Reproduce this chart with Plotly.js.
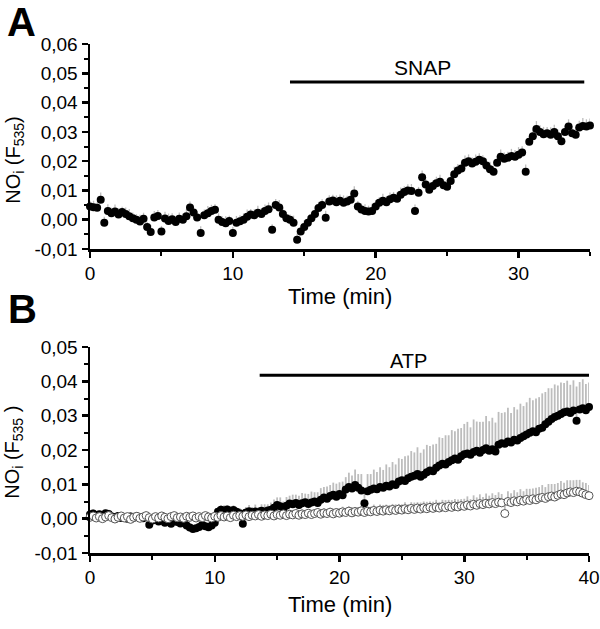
<!DOCTYPE html>
<html>
<head>
<meta charset="utf-8">
<script src="https://cdn.plot.ly/plotly-3.0.1.min.js"></script>
<style>html,body{margin:0;padding:0;background:#fff;}#chart{width:600px;height:629px;}</style>
</head>
<body>
<div id="chart"></div>
<script>
// ---------- DATA ----------
// Panel A: NOi (F535) with SNAP, sampled every 0.25 min from 0 to 35 min
const timeStartA = 0;
const timeStepA = 0.25;
const noSnap = [
  0.0045,0.0043,0.0041,0.0068,-0.0010,0.0030,0.0022,0.0028,0.0018,0.0026,
  0.0020,0.0012,0.0005,0.0000,-0.0006,0.0003,-0.0025,-0.0042,0.0008,0.0013,
  -0.0040,0.0004,-0.0004,0.0002,-0.0008,0.0003,0.0000,0.0012,0.0042,0.0025,
  0.0008,-0.0045,0.0015,0.0022,0.0030,0.0034,0.0000,-0.0008,-0.0012,-0.0004,
  -0.0045,-0.0010,-0.0005,0.0000,0.0010,0.0018,0.0015,0.0024,0.0020,0.0030,
  0.0036,-0.0034,0.0050,0.0042,0.0020,0.0005,0.0000,-0.0010,-0.0068,-0.0040,
  -0.0025,-0.0010,0.0005,0.0020,0.0040,0.0050,0.0007,0.0062,0.0066,0.0060,
  0.0065,0.0058,0.0062,0.0068,0.0090,0.0045,0.0035,0.0030,0.0028,0.0030,
  0.0045,0.0058,0.0065,0.0060,0.0070,0.0075,0.0072,0.0085,0.0095,0.0100,
  0.0098,0.0030,0.0092,0.0145,0.0120,0.0102,0.0115,0.0125,0.0130,0.0118,
  0.0113,0.0132,0.0155,0.0168,0.0175,0.0195,0.0200,0.0192,0.0198,0.0205,
  0.0200,0.0185,0.0172,0.0164,0.0195,0.0215,0.0208,0.0212,0.0218,0.0215,
  0.0222,0.0230,0.0164,0.0266,0.0285,0.0310,0.0300,0.0292,0.0295,0.0290,
  0.0300,0.0285,0.0268,0.0300,0.0318,0.0295,0.0290,0.0315,0.0320,0.0318,
  0.0322
];
const noSnapErr = [
  0.0020,0.0022,0.0018,0.0025,0.0020,0.0023,0.0019,0.0024,0.0021,0.0018,
  0.0022,0.0025,0.0020,0.0019,0.0023,0.0021,0.0018,0.0024,0.0022,0.0020,
  0.0019,0.0023,0.0025,0.0020,0.0018,0.0022,0.0021,0.0024,0.0020,0.0019,
  0.0022,0.0023,0.0020,0.0025,0.0021,0.0019,0.0022,0.0020,0.0024,0.0018,
  0.0021,0.0023,0.0020,0.0022,0.0025,0.0019,0.0021,0.0024,0.0020,0.0022,
  0.0023,0.0019,0.0021,0.0025,0.0020,0.0022,0.0018,0.0024,0.0021,0.0020,
  0.0023,0.0022,0.0019,0.0025,0.0021,0.0020,0.0024,0.0022,0.0019,0.0023,
  0.0021,0.0025,0.0020,0.0022,0.0024,0.0019,0.0021,0.0023,0.0020,0.0025,
  0.0022,0.0019,0.0024,0.0021,0.0023,0.0020,0.0022,0.0025,0.0019,0.0021,
  0.0024,0.0022,0.0020,0.0023,0.0021,0.0025,0.0019,0.0022,0.0024,0.0020,
  0.0023,0.0021,0.0026,0.0022,0.0020,0.0024,0.0023,0.0021,0.0025,0.0022,
  0.0020,0.0024,0.0026,0.0021,0.0023,0.0025,0.0022,0.0020,0.0024,0.0023,
  0.0026,0.0021,0.0025,0.0022,0.0024,0.0027,0.0023,0.0025,0.0022,0.0026,
  0.0024,0.0023,0.0027,0.0022,0.0025,0.0024,0.0026,0.0023,0.0027,0.0025,
  0.0024
];

// Panel B: NOi (F535) with ATP (filled) and control (open), every 0.25 min from 0 to 40 min
const timeStartB = 0;
const timeStepB = 0.25;
const noAtp = [
  0.0012,0.0015,0.0010,0.0013,0.0008,0.0016,0.0014,0.0006,0.0004,0.0008,
  0.0002,0.0005,0.0000,0.0006,0.0003,0.0007,0.0004,0.0001,0.0005,-0.0018,
  -0.0005,0.0000,-0.0008,-0.0003,-0.0012,-0.0006,-0.0015,-0.0004,-0.0010,-0.0014,
  -0.0008,-0.0020,-0.0026,-0.0030,-0.0028,-0.0024,-0.0018,-0.0022,-0.0025,-0.0020,
  -0.0012,0.0020,0.0026,0.0024,0.0027,0.0021,0.0025,0.0020,0.0016,-0.0015,
  0.0018,0.0022,0.0019,0.0021,0.0017,0.0023,0.0020,0.0024,0.0026,0.0032,
  0.0040,0.0036,0.0030,0.0038,0.0044,0.0042,0.0046,0.0040,0.0045,0.0048,
  0.0043,0.0047,0.0050,0.0046,0.0055,0.0062,0.0058,0.0066,0.0070,0.0064,
  0.0072,0.0068,0.0085,0.0092,0.0088,0.0098,0.0090,0.0082,0.0045,0.0080,
  0.0084,0.0088,0.0086,0.0092,0.0090,0.0096,0.0094,0.0100,0.0098,0.0108,
  0.0112,0.0110,0.0118,0.0122,0.0125,0.0130,0.0122,0.0128,0.0135,0.0140,
  0.0138,0.0148,0.0155,0.0160,0.0158,0.0165,0.0170,0.0175,0.0172,0.0182,
  0.0188,0.0190,0.0186,0.0194,0.0198,0.0192,0.0200,0.0205,0.0198,0.0202,
  0.0196,0.0215,0.0220,0.0218,0.0225,0.0222,0.0230,0.0228,0.0235,0.0240,
  0.0245,0.0250,0.0255,0.0252,0.0262,0.0265,0.0275,0.0282,0.0290,0.0296,
  0.0300,0.0305,0.0310,0.0312,0.0308,0.0315,0.0285,0.0318,0.0322,0.0316,
  0.0325
];
const noAtpErr = [
  0.0010,0.0012,0.0009,0.0011,0.0013,0.0010,0.0012,0.0009,0.0011,0.0010,
  0.0012,0.0009,0.0011,0.0013,0.0010,0.0012,0.0011,0.0009,0.0012,0.0010,
  0.0011,0.0013,0.0010,0.0012,0.0009,0.0011,0.0013,0.0010,0.0012,0.0011,
  0.0010,0.0012,0.0011,0.0013,0.0010,0.0012,0.0009,0.0011,0.0013,0.0012,
  0.0012,0.0014,0.0013,0.0015,0.0012,0.0016,0.0014,0.0013,0.0015,0.0014,
  0.0016,0.0018,0.0015,0.0020,0.0017,0.0019,0.0022,0.0018,0.0021,0.0024,
  0.0022,0.0026,0.0020,0.0025,0.0023,0.0028,0.0024,0.0027,0.0030,0.0025,
  0.0029,0.0032,0.0027,0.0031,0.0034,0.0030,0.0036,0.0032,0.0035,0.0038,
  0.0034,0.0040,0.0036,0.0042,0.0038,0.0045,0.0040,0.0048,0.0044,0.0050,
  0.0046,0.0055,0.0050,0.0058,0.0052,0.0062,0.0056,0.0065,0.0060,0.0068,
  0.0062,0.0072,0.0066,0.0075,0.0068,0.0078,0.0070,0.0074,0.0080,0.0072,
  0.0078,0.0070,0.0082,0.0075,0.0085,0.0078,0.0088,0.0080,0.0090,0.0082,
  0.0088,0.0092,0.0080,0.0095,0.0085,0.0090,0.0082,0.0094,0.0086,0.0092,
  0.0084,0.0096,0.0088,0.0092,0.0098,0.0086,0.0095,0.0090,0.0100,0.0088,
  0.0094,0.0102,0.0090,0.0098,0.0092,0.0100,0.0094,0.0098,0.0090,0.0095,
  0.0088,0.0092,0.0085,0.0090,0.0082,0.0088,0.0100,0.0080,0.0084,0.0076,
  0.0072
];
const noControl = [
  0.0004,0.0008,0.0002,0.0006,0.0000,0.0005,0.0009,0.0003,-0.0001,0.0004,
  0.0008,0.0002,0.0006,-0.0002,0.0004,0.0007,0.0001,0.0005,0.0009,0.0003,
  -0.0001,0.0006,0.0002,0.0008,0.0004,0.0000,0.0006,0.0009,0.0003,0.0005,
  0.0001,0.0007,0.0004,0.0008,0.0002,0.0006,0.0003,0.0009,0.0005,0.0002,
  0.0007,0.0004,0.0009,0.0005,0.0008,0.0003,0.0010,0.0006,0.0009,0.0007,
  0.0011,0.0006,0.0010,0.0008,0.0012,0.0007,0.0011,0.0009,0.0013,0.0008,
  0.0012,0.0010,0.0014,0.0009,0.0013,0.0011,0.0015,0.0010,0.0014,0.0012,
  0.0016,0.0012,0.0015,0.0018,0.0013,0.0017,0.0015,0.0019,0.0014,0.0018,
  0.0016,0.0020,0.0018,0.0022,0.0017,0.0021,0.0019,0.0023,0.0018,0.0022,
  0.0020,0.0024,0.0021,0.0025,0.0022,0.0026,0.0023,0.0027,0.0024,0.0028,
  0.0025,0.0029,0.0026,0.0030,0.0027,0.0031,0.0028,0.0032,0.0029,0.0033,
  0.0030,0.0034,0.0031,0.0035,0.0032,0.0036,0.0033,0.0037,0.0034,0.0038,
  0.0036,0.0040,0.0037,0.0042,0.0039,0.0044,0.0041,0.0045,0.0043,0.0047,
  0.0044,0.0048,0.0046,0.0015,0.0050,0.0047,0.0052,0.0049,0.0054,0.0051,
  0.0056,0.0053,0.0058,0.0055,0.0060,0.0062,0.0059,0.0064,0.0066,0.0063,
  0.0068,0.0072,0.0070,0.0075,0.0078,0.0076,0.0080,0.0078,0.0074,0.0070,
  0.0067
];
const noControlErr = [
  0.0006,0.0008,0.0005,0.0007,0.0009,0.0006,0.0008,0.0005,0.0007,0.0006,
  0.0008,0.0005,0.0007,0.0009,0.0006,0.0008,0.0007,0.0005,0.0008,0.0006,
  0.0007,0.0009,0.0006,0.0008,0.0005,0.0007,0.0009,0.0006,0.0008,0.0007,
  0.0006,0.0008,0.0007,0.0009,0.0006,0.0008,0.0005,0.0007,0.0009,0.0008,
  0.0008,0.0010,0.0007,0.0009,0.0008,0.0010,0.0007,0.0009,0.0010,0.0008,
  0.0009,0.0011,0.0008,0.0010,0.0009,0.0011,0.0008,0.0010,0.0012,0.0009,
  0.0010,0.0012,0.0009,0.0011,0.0013,0.0010,0.0012,0.0011,0.0013,0.0010,
  0.0012,0.0014,0.0011,0.0013,0.0012,0.0014,0.0011,0.0013,0.0015,0.0012,
  0.0013,0.0015,0.0012,0.0014,0.0016,0.0013,0.0015,0.0014,0.0016,0.0013,
  0.0015,0.0017,0.0014,0.0016,0.0018,0.0015,0.0017,0.0016,0.0018,0.0015,
  0.0017,0.0019,0.0016,0.0018,0.0020,0.0017,0.0019,0.0018,0.0020,0.0017,
  0.0019,0.0021,0.0018,0.0020,0.0022,0.0019,0.0021,0.0020,0.0022,0.0019,
  0.0022,0.0025,0.0020,0.0026,0.0023,0.0027,0.0022,0.0028,0.0024,0.0027,
  0.0025,0.0029,0.0026,0.0028,0.0030,0.0027,0.0031,0.0028,0.0032,0.0029,
  0.0031,0.0034,0.0030,0.0035,0.0032,0.0036,0.0033,0.0037,0.0035,0.0038,
  0.0036,0.0038,0.0035,0.0037,0.0034,0.0036,0.0033,0.0035,0.0032,0.0034,
  0.0031
];

// Treatment periods (min), bar levels and label positions
const snapPeriod = [14.0, 34.6];
const snapLevel = 0.047;
const snapLabelX = 23.3;
const atpPeriod = [13.6, 40.0];
const atpLevel = 0.0418;
const atpLabelX = 25.5;

// Tick labels
const xTicksA = [0, 10, 20, 30];
const xTickTextA = ['0', '10', '20', '30'];
const yTicksA = [-0.01, 0.00, 0.01, 0.02, 0.03, 0.04, 0.05, 0.06];
const yTickTextA = ['-0,01', '0,00', '0,01', '0,02', '0,03', '0,04', '0,05', '0,06'];
const xTicksB = [0, 10, 20, 30, 40];
const xTickTextB = ['0', '10', '20', '30', '40'];
const yTicksB = [-0.01, 0.00, 0.01, 0.02, 0.03, 0.04, 0.05];
const yTickTextB = ['-0,01', '0,00', '0,01', '0,02', '0,03', '0,04', '0,05'];

// ---------- STYLE / BUILD ----------
const FONT = 'Liberation Sans, Arial, Helvetica, sans-serif';
const errColor = '#bdbdbd';
const upOnly = (arr) => arr.map(() => 0);

const traces = [
  {
    type: 'scatter', mode: 'markers', xaxis: 'x', yaxis: 'y',
    x0: timeStartA, dx: timeStepA, y: noSnap, cliponaxis: false,
    marker: {symbol: 'circle', size: 8, color: '#000'},
    error_y: {type: 'data', symmetric: false, array: noSnapErr, arrayminus: upOnly(noSnapErr),
              color: errColor, thickness: 1.3, width: 0}
  },
  {
    type: 'scatter', mode: 'markers', xaxis: 'x2', yaxis: 'y2',
    x0: timeStartB, dx: timeStepB, y: noAtp, cliponaxis: false,
    marker: {symbol: 'circle', size: 8, color: '#000'},
    error_y: {type: 'data', symmetric: false, array: noAtpErr, arrayminus: upOnly(noAtpErr),
              color: errColor, thickness: 1.8, width: 0}
  },
  {
    type: 'scatter', mode: 'markers', xaxis: 'x2', yaxis: 'y2',
    x0: timeStartB, dx: timeStepB, y: noControl, cliponaxis: false,
    marker: {symbol: 'circle', size: 8, color: '#fff', line: {color: '#555', width: 1}},
    error_y: {type: 'data', symmetric: false, array: noControlErr, arrayminus: upOnly(noControlErr),
              color: errColor, thickness: 1.8, width: 0}
  }
];

function axisBase(extra) {
  return Object.assign({
    showline: true, linecolor: '#000', linewidth: 2.5,
    ticks: 'outside', ticklen: 6, tickwidth: 2.5, tickcolor: '#000',
    showgrid: false, zeroline: false, fixedrange: true,
    tickfont: {family: FONT, size: 19, color: '#000'},
    tickmode: 'array'
  }, extra);
}

const layout = {
  width: 600, height: 629,
  margin: {l: 0, r: 0, t: 0, b: 0},
  paper_bgcolor: '#fff', plot_bgcolor: '#fff',
  showlegend: false,
  font: {family: FONT, color: '#000'},
  xaxis: axisBase({domain: [0.15, 0.9833], range: [0, 35], anchor: 'y',
    tickvals: xTicksA, ticktext: xTickTextA,
    minor: {dtick: 5, tick0: 0, ticks: 'outside', ticklen: 4, tickwidth: 2, tickcolor: '#000'}}),
  yaxis: axisBase({domain: [0.6041, 0.9300], range: [-0.01, 0.06], anchor: 'x',
    tickvals: yTicksA, ticktext: yTickTextA,
    minor: {dtick: 0.005, tick0: 0, ticks: 'outside', ticklen: 4, tickwidth: 2, tickcolor: '#000'}}),
  xaxis2: axisBase({domain: [0.15, 0.9817], range: [0, 40], anchor: 'y2',
    tickvals: xTicksB, ticktext: xTickTextB,
    minor: {dtick: 5, tick0: 0, ticks: 'outside', ticklen: 4, tickwidth: 2, tickcolor: '#000'}}),
  yaxis2: axisBase({domain: [0.1208, 0.4483], range: [-0.01, 0.05], anchor: 'x2',
    tickvals: yTicksB, ticktext: yTickTextB,
    minor: {dtick: 0.005, tick0: 0, ticks: 'outside', ticklen: 4, tickwidth: 2, tickcolor: '#000'}}),
  shapes: [
    {type: 'line', xref: 'x', yref: 'y', x0: snapPeriod[0], x1: snapPeriod[1], y0: snapLevel, y1: snapLevel,
     line: {color: '#000', width: 3}},
    {type: 'line', xref: 'x2', yref: 'y2', x0: atpPeriod[0], x1: atpPeriod[1], y0: atpLevel, y1: atpLevel,
     line: {color: '#000', width: 3}}
  ],
  annotations: [
    {text: 'SNAP', xref: 'x', yref: 'y', x: snapLabelX, y: snapLevel,
     yanchor: 'bottom', yshift: 1, showarrow: false, font: {family: FONT, size: 21}},
    {text: 'ATP', xref: 'x2', yref: 'y2', x: atpLabelX, y: atpLevel,
     yanchor: 'bottom', yshift: 1, showarrow: false, font: {family: FONT, size: 20}},
    {text: 'Time (min)', xref: 'paper', yref: 'paper', x: 0.566, y: 0.5294,
     xanchor: 'center', yanchor: 'middle', showarrow: false, font: {family: FONT, size: 22}},
    {text: 'Time (min)', xref: 'paper', yref: 'paper', x: 0.566, y: 0.0397,
     xanchor: 'center', yanchor: 'middle', showarrow: false, font: {family: FONT, size: 22}},
    {text: 'NO<sub>i</sub> (F<sub>535</sub>)', xref: 'paper', yref: 'paper', x: 0.023, y: 0.7456,
     xanchor: 'center', yanchor: 'middle', textangle: -90, showarrow: false, font: {family: FONT, size: 20}},
    {text: 'NO<sub>i</sub> (F<sub>535</sub> )', xref: 'paper', yref: 'paper', x: 0.023, y: 0.2814,
     xanchor: 'center', yanchor: 'middle', textangle: -90, showarrow: false, font: {family: FONT, size: 20}},
    {text: '<b>A</b>', xref: 'paper', yref: 'paper', x: 0.035, y: 1,
     xanchor: 'center', yanchor: 'top', yshift: 2, showarrow: false, font: {family: FONT, size: 40}},
    {text: '<b>B</b>', xref: 'paper', yref: 'paper', x: 0.037, y: 0.508,
     xanchor: 'center', yanchor: 'middle', showarrow: false, font: {family: FONT, size: 40}}
  ]
};

Plotly.newPlot('chart', traces, layout, {staticPlot: true, displayModeBar: false});
</script>
</body>
</html>
